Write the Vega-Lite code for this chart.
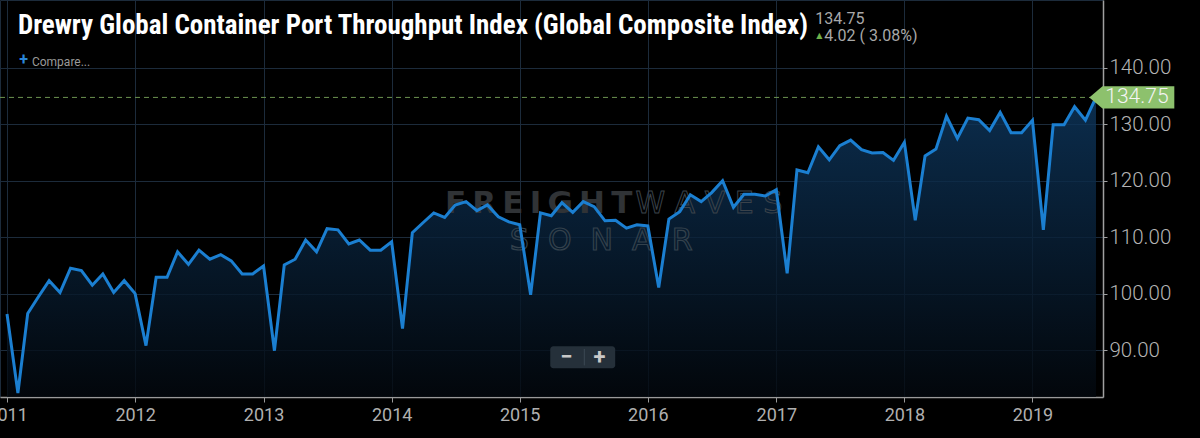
{
  "$schema": "https://vega.github.io/schema/vega-lite/v6.json",
  "width": 1103,
  "height": 397,
  "autosize": {"type": "none"},
  "padding": {"left": 0, "top": 0, "right": 97, "bottom": 41},
  "background": "#000000",
  "config": {"view": {"stroke": "#1c2b3b"}, "font": "Roboto"},
  "data": {
    "values": [
      {"date": "2011-01-01", "value": 96.4}, {"date": "2011-02-01", "value": 82.4}, {"date": "2011-03-01", "value": 96.5},
      {"date": "2011-04-01", "value": 99.5}, {"date": "2011-05-01", "value": 102.3}, {"date": "2011-06-01", "value": 100.2},
      {"date": "2011-07-01", "value": 104.5}, {"date": "2011-08-01", "value": 104.1}, {"date": "2011-09-01", "value": 101.5},
      {"date": "2011-10-01", "value": 103.5}, {"date": "2011-11-01", "value": 100.2}, {"date": "2011-12-01", "value": 102.3},
      {"date": "2012-01-01", "value": 100.0}, {"date": "2012-02-01", "value": 90.8}, {"date": "2012-03-01", "value": 102.9},
      {"date": "2012-04-01", "value": 102.9}, {"date": "2012-05-01", "value": 107.4}, {"date": "2012-06-01", "value": 105.2},
      {"date": "2012-07-01", "value": 107.7}, {"date": "2012-08-01", "value": 106.1}, {"date": "2012-09-01", "value": 106.9},
      {"date": "2012-10-01", "value": 105.8}, {"date": "2012-11-01", "value": 103.5}, {"date": "2012-12-01", "value": 103.5},
      {"date": "2013-01-01", "value": 104.9}, {"date": "2013-02-01", "value": 89.9}, {"date": "2013-03-01", "value": 105.1},
      {"date": "2013-04-01", "value": 106.1}, {"date": "2013-05-01", "value": 109.5}, {"date": "2013-06-01", "value": 107.4},
      {"date": "2013-07-01", "value": 111.5}, {"date": "2013-08-01", "value": 111.3}, {"date": "2013-09-01", "value": 108.8},
      {"date": "2013-10-01", "value": 109.5}, {"date": "2013-11-01", "value": 107.7}, {"date": "2013-12-01", "value": 107.7},
      {"date": "2014-01-01", "value": 109.2}, {"date": "2014-02-01", "value": 93.8}, {"date": "2014-03-01", "value": 110.8},
      {"date": "2014-04-01", "value": 112.6}, {"date": "2014-05-01", "value": 114.3}, {"date": "2014-06-01", "value": 113.5},
      {"date": "2014-07-01", "value": 115.7}, {"date": "2014-08-01", "value": 116.3}, {"date": "2014-09-01", "value": 114.7},
      {"date": "2014-10-01", "value": 115.7}, {"date": "2014-11-01", "value": 113.6}, {"date": "2014-12-01", "value": 112.7},
      {"date": "2015-01-01", "value": 112.2}, {"date": "2015-02-01", "value": 99.8}, {"date": "2015-03-01", "value": 114.3},
      {"date": "2015-04-01", "value": 113.8}, {"date": "2015-05-01", "value": 116.1}, {"date": "2015-06-01", "value": 114.4},
      {"date": "2015-07-01", "value": 116.3}, {"date": "2015-08-01", "value": 115.4}, {"date": "2015-09-01", "value": 112.9},
      {"date": "2015-10-01", "value": 113.0}, {"date": "2015-11-01", "value": 111.6}, {"date": "2015-12-01", "value": 112.2},
      {"date": "2016-01-01", "value": 112.0}, {"date": "2016-02-01", "value": 101.1}, {"date": "2016-03-01", "value": 113.2},
      {"date": "2016-04-01", "value": 114.5}, {"date": "2016-05-01", "value": 117.5}, {"date": "2016-06-01", "value": 116.3},
      {"date": "2016-07-01", "value": 117.9}, {"date": "2016-08-01", "value": 120.0}, {"date": "2016-09-01", "value": 115.3},
      {"date": "2016-10-01", "value": 117.6}, {"date": "2016-11-01", "value": 117.6}, {"date": "2016-12-01", "value": 117.3},
      {"date": "2017-01-01", "value": 118.4}, {"date": "2017-02-01", "value": 103.6}, {"date": "2017-03-01", "value": 121.9},
      {"date": "2017-04-01", "value": 121.4}, {"date": "2017-05-01", "value": 126.0}, {"date": "2017-06-01", "value": 123.7},
      {"date": "2017-07-01", "value": 126.2}, {"date": "2017-08-01", "value": 127.2}, {"date": "2017-09-01", "value": 125.5},
      {"date": "2017-10-01", "value": 124.9}, {"date": "2017-11-01", "value": 125.0}, {"date": "2017-12-01", "value": 123.6},
      {"date": "2018-01-01", "value": 126.8}, {"date": "2018-02-01", "value": 113.0}, {"date": "2018-03-01", "value": 124.4},
      {"date": "2018-04-01", "value": 125.6}, {"date": "2018-05-01", "value": 131.4}, {"date": "2018-06-01", "value": 127.5},
      {"date": "2018-07-01", "value": 131.1}, {"date": "2018-08-01", "value": 130.8}, {"date": "2018-09-01", "value": 128.9},
      {"date": "2018-10-01", "value": 132.1}, {"date": "2018-11-01", "value": 128.5}, {"date": "2018-12-01", "value": 128.5},
      {"date": "2019-01-01", "value": 130.7}, {"date": "2019-02-01", "value": 111.3}, {"date": "2019-03-01", "value": 129.9},
      {"date": "2019-04-01", "value": 129.9}, {"date": "2019-05-01", "value": 133.1}, {"date": "2019-06-01", "value": 130.73},
      {"date": "2019-07-01", "value": 134.75}
    ]
  },
  "layer": [
    {
      "mark": {
        "type": "area",
        "fillOpacity": 0.8,
        "fill": {
          "gradient": "linear",
          "x1": 0, "y1": 0, "x2": 0, "y2": 1,
          "stops": [
            {"offset": 0, "color": "#0e3860"},
            {"offset": 1, "color": "#03080e"}
          ]
        }
      },
      "encoding": {
        "x": {
          "field": "date",
          "type": "temporal",
          "scale": {
            "type": "utc",
            "domain": [
              {"year": 2010, "month": 12, "date": 12, "utc": true},
              {"year": 2019, "month": 7, "date": 21, "utc": true}
            ]
          },
          "axis": {
            "title": null,
            "grid": true,
            "gridColor": "#1c2b3b",
            "domainColor": "#9a9a9a",
            "domainWidth": 1.5,
            "tickColor": "#9a9a9a",
            "tickSize": 5,
            "labelColor": "#b0b0b0",
            "labelFontSize": 18,
            "labelFont": "Roboto",
            "labelPadding": 4,
            "labelFlush": false,
            "labelBound": false,
            "labelOverlap": false,
            "tickCount": {"interval": "year"},
            "format": "%Y"
          }
        },
        "y": {
          "field": "value",
          "type": "quantitative",
          "scale": {"domain": [81.7, 152], "nice": false, "zero": false},
          "axis": {
            "orient": "right",
            "title": null,
            "values": [90, 100, 110, 120, 130, 140],
            "format": ".2f",
            "grid": true,
            "gridColor": "#1c2b3b",
            "domainColor": "#a0a0a0",
            "domainWidth": 1.5,
            "tickColor": "#a0a0a0",
            "tickSize": 4,
            "labelColor": "#b4b4b4",
            "labelFontSize": 20.5,
            "labelFont": "Roboto",
            "labelFontWeight": 300,
            "labelPadding": 2
          }
        },
        "y2": {"datum": 81.7}
      }
    },
    {
      "data": {"values": [{}]},
      "layer": [
        {
          "mark": {"type": "text", "text": "F\u2009R\u2009E\u2009I\u2009G\u2009H\u2009T", "align": "right", "baseline": "alphabetic", "font": "DejaVu Sans", "fontWeight": "bold", "fontSize": 31, "color": "#303336"},
          "encoding": {
            "x": {"datum": {"year": 2015, "month": 11, "date": 18, "utc": true}, "type": "temporal"},
            "y": {"datum": 114.2, "type": "quantitative"}
          }
        },
        {
          "mark": {"type": "text", "text": "W\u00a0A\u00a0V\u00a0E\u00a0S", "align": "left", "dx": 3, "baseline": "alphabetic", "font": "DejaVu Sans", "fontSize": 30, "fillOpacity": 0, "stroke": "#3a424a", "strokeWidth": 1},
          "encoding": {
            "x": {"datum": {"year": 2015, "month": 11, "date": 18, "utc": true}, "type": "temporal"},
            "y": {"datum": 114.2, "type": "quantitative"}
          }
        },
        {
          "mark": {"type": "text", "text": "S\u00a0\u00a0O\u00a0\u00a0N\u00a0\u00a0A\u00a0\u00a0R", "align": "center", "baseline": "alphabetic", "font": "DejaVu Sans", "fontSize": 30, "fillOpacity": 0, "stroke": "#33414c", "strokeWidth": 1.2},
          "encoding": {
            "x": {"datum": {"year": 2015, "month": 8, "date": 21, "utc": true}, "type": "temporal"},
            "y": {"datum": 107.7, "type": "quantitative"}
          }
        }
      ]
    },
    {
      "data": {"values": [{}]},
      "mark": {"type": "rule", "color": "#6b9350", "strokeDash": [5, 4], "strokeWidth": 1},
      "encoding": {"y": {"datum": 134.75, "type": "quantitative"}}
    },
    {
      "mark": {"type": "line", "color": "#1b7fd1", "strokeWidth": 3},
      "encoding": {
        "x": {"field": "date", "type": "temporal"},
        "y": {"field": "value", "type": "quantitative"}
      }
    },
    {
      "data": {"values": [{}]},
      "layer": [
        {
          "mark": {"type": "rect", "color": "#25303a", "cornerRadius": 3},
          "encoding": {
            "x": {"datum": {"year": 2015, "month": 3, "date": 29, "utc": true}, "type": "temporal"},
            "x2": {"datum": {"year": 2015, "month": 9, "date": 30, "utc": true}},
            "y": {"datum": 90.7, "type": "quantitative"},
            "y2": {"datum": 86.8}
          }
        },
        {
          "mark": {"type": "rule", "color": "#3c4854", "strokeWidth": 1},
          "encoding": {
            "x": {"datum": {"year": 2015, "month": 7, "date": 4, "utc": true}, "type": "temporal"},
            "y": {"datum": 90.2, "type": "quantitative"},
            "y2": {"datum": 87.3}
          }
        },
        {
          "mark": {"type": "text", "text": "−", "align": "center", "baseline": "middle", "fontWeight": "bold", "fontSize": 22, "color": "#c8c8c8"},
          "encoding": {
            "x": {"datum": {"year": 2015, "month": 5, "date": 14, "utc": true}, "type": "temporal"},
            "y": {"datum": 88.8, "type": "quantitative"}
          }
        },
        {
          "mark": {"type": "text", "text": "+", "align": "center", "baseline": "middle", "fontWeight": "bold", "fontSize": 22, "color": "#c8c8c8"},
          "encoding": {
            "x": {"datum": {"year": 2015, "month": 8, "date": 16, "utc": true}, "type": "temporal"},
            "y": {"datum": 88.8, "type": "quantitative"}
          }
        }
      ]
    },
    {
      "data": {"values": [{}]},
      "layer": [
        {
          "mark": {"type": "text", "text": "Drewry Global Container Port Throughput Index (Global Composite Index)", "align": "left", "baseline": "alphabetic", "font": "Roboto Condensed, Liberation Sans Narrow, DejaVu Sans Condensed, Roboto", "fontWeight": "bold", "fontSize": 27, "color": "#ffffff"},
          "encoding": {
            "x": {"datum": {"year": 2011, "month": 2, "date": 1, "utc": true}, "type": "temporal"},
            "y": {"datum": 145.9, "type": "quantitative"}
          }
        },
        {
          "mark": {"type": "text", "text": "134.75", "align": "left", "baseline": "alphabetic", "fontSize": 16, "color": "#a8a8a8"},
          "encoding": {
            "x": {"datum": {"year": 2017, "month": 4, "date": 22, "utc": true}, "type": "temporal"},
            "y": {"datum": 147.8, "type": "quantitative"}
          }
        },
        {
          "mark": {"type": "text", "text": "▲", "align": "left", "dx": 1, "baseline": "alphabetic", "font": "DejaVu Sans", "fontSize": 8, "color": "#6fb04a"},
          "encoding": {
            "x": {"datum": {"year": 2017, "month": 4, "date": 22, "utc": true}, "type": "temporal"},
            "y": {"datum": 145.2, "type": "quantitative"}
          }
        },
        {
          "mark": {"type": "text", "text": "4.02 ( 3.08%)", "align": "left", "baseline": "alphabetic", "fontSize": 16, "color": "#a8a8a8"},
          "encoding": {
            "x": {"datum": {"year": 2017, "month": 5, "date": 18, "utc": true}, "type": "temporal"},
            "y": {"datum": 144.8, "type": "quantitative"}
          }
        },
        {
          "mark": {"type": "text", "text": "+", "align": "center", "baseline": "alphabetic", "fontWeight": "bold", "fontSize": 16, "color": "#2a86d8"},
          "encoding": {
            "x": {"datum": {"year": 2011, "month": 2, "date": 17, "utc": true}, "type": "temporal"},
            "y": {"datum": 140.5, "type": "quantitative"}
          }
        },
        {
          "mark": {"type": "text", "text": "Compare...", "align": "left", "baseline": "alphabetic", "fontSize": 12, "color": "#9a9a9a"},
          "encoding": {
            "x": {"datum": {"year": 2011, "month": 3, "date": 13, "utc": true}, "type": "temporal"},
            "y": {"datum": 140.3, "type": "quantitative"}
          }
        }
      ]
    },
    {
      "data": {"values": [{}]},
      "layer": [
        {
          "mark": {"type": "point", "shape": "M0,0L0.31,-0.26L2,-0.26L2,0.26L0.31,0.26Z", "size": 7225, "filled": true, "opacity": 1, "color": "#8dc16d", "strokeWidth": 0},
          "encoding": {
            "x": {"datum": {"year": 2019, "month": 6, "date": 12, "utc": true}, "type": "temporal"},
            "y": {"datum": 134.75, "type": "quantitative"}
          }
        },
        {
          "mark": {"type": "text", "text": "134.75", "align": "left", "baseline": "middle", "dx": 16, "fontSize": 21, "fontWeight": 300, "color": "#f4f4f4"},
          "encoding": {
            "x": {"datum": {"year": 2019, "month": 6, "date": 12, "utc": true}, "type": "temporal"},
            "y": {"datum": 134.75, "type": "quantitative"}
          }
        }
      ]
    }
  ]
}
